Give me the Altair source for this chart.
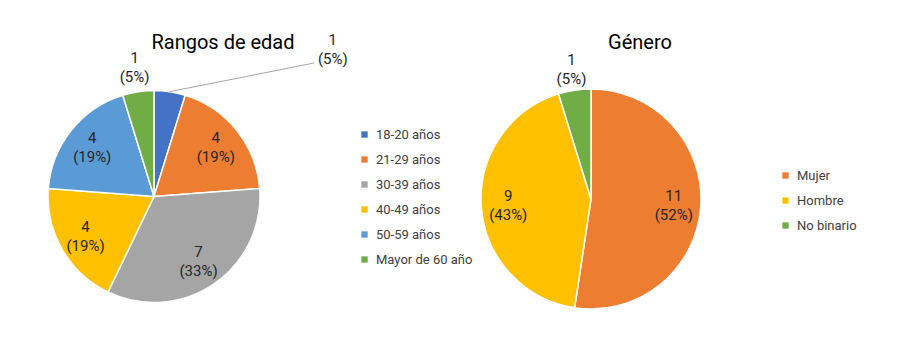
import math
import altair as alt
import pandas as pd

# ---- data ----
age_cats = ["18-20 años", "21-29 años", "30-39 años", "40-49 años", "50-59 años", "Mayor de 60 año"]
age_vals = [1, 4, 7, 4, 4, 1]
age_colors = ["#4472C4", "#ED7D31", "#A5A5A5", "#FFC000", "#5B9BD5", "#70AD47"]

gen_cats = ["Mujer", "Hombre", "No binario"]
gen_vals = [11, 9, 1]
gen_colors = ["#ED7D31", "#FFC000", "#70AD47"]

FONT = "Roboto"
TXT = "#262626"
LEG = "#404040"

age_df = pd.DataFrame({"cat": age_cats, "value": age_vals, "idx": list(range(len(age_cats)))})
gen_df = pd.DataFrame({"cat": gen_cats, "value": gen_vals, "idx": list(range(len(gen_cats)))})

# geometry (chart pixel coords)
L_CX, L_CY, L_R = 146, 188.5, 106
R_CX, R_CY, R_R = 583, 191, 110
LINE_SHIFT = -9.5  # centre two-line labels on their anchor


def pie(df, cats, colors, cx, cy, r, lx, ly):
    return alt.Chart(df).mark_arc(radius=r, stroke="white", strokeWidth=1.5).encode(
        theta=alt.Theta("value:Q", stack=True),
        order=alt.Order("idx:Q", sort="ascending"),
        color=alt.Color(
            "cat:N",
            sort=cats,
            scale=alt.Scale(domain=cats, range=colors),
            legend=alt.Legend(
                title=None, orient="none", legendX=lx, legendY=ly,
                symbolType="square", symbolSize=40, symbolStrokeWidth=0,
                labelFont=FONT, labelFontSize=13, labelColor=LEG,
                rowPadding=11, labelOffset=5, labelLimit=200,
            ),
        ),
        x=alt.value(cx),
        y=alt.value(cy),
    )


def labels(df, cx, cy, radius, cond, dx=0, dy=0):
    return alt.Chart(df).transform_joinaggregate(
        total="sum(value)"
    ).transform_calculate(
        lab=f"({cond}) ? (datum.value + '\\n(' + round(datum.value / datum.total * 100) + '%)') : ''"
    ).mark_text(
        radius=radius, font=FONT, fontSize=15, color=TXT, lineBreak="\n",
        lineHeight=19, align="center", baseline="middle", dx=dx, dy=dy + LINE_SHIFT,
    ).encode(
        theta=alt.Theta("value:Q", stack=True),
        order=alt.Order("idx:Q", sort="ascending"),
        text="lab:N",
        x=alt.value(cx),
        y=alt.value(cy),
    )


def title(text, x, y):
    return alt.Chart(pd.DataFrame({"t": [text]})).mark_text(
        font=FONT, fontSize=20, color="#000000", align="center", baseline="alphabetic"
    ).encode(text="t:N", x=alt.value(x), y=alt.value(y))


# leader line for the smallest age slice
mid = 0.5 * age_vals[0] / sum(age_vals) * 2 * math.pi
sx = L_CX + L_R * math.sin(mid)
sy = L_CY - L_R * math.cos(mid)
leader = alt.Chart(pd.DataFrame({"a": [0]})).mark_rule(color="#A6A6A6", strokeWidth=1).encode(
    x=alt.value(sx), y=alt.value(sy), x2=alt.value(306), y2=alt.value(55)
)

left_pie = pie(age_df, age_cats, age_colors, L_CX, L_CY, L_R, 350, 120)
left_in = labels(age_df, L_CX, L_CY, 79, "datum.value >= 2")
left_out = labels(age_df, L_CX, L_CY, 130, "datum.idx == 5")
left_far = labels(age_df, L_CX, L_CY, L_R, "datum.idx == 0", dx=163, dy=-42)

right_pie = pie(gen_df, gen_cats, gen_colors, R_CX, R_CY, R_R, 771, 161)
right_in = labels(gen_df, R_CX, R_CY, 83, "datum.value >= 2")
right_out = labels(gen_df, R_CX, R_CY, 131, "datum.value < 2")

chart = alt.layer(
    left_pie, leader, left_in, left_out, left_far,
    right_pie, right_in, right_out,
    title("Rangos de edad", 215, 41),
    title("Género", 632, 41),
).resolve_scale(
    color="independent", theta="independent"
).resolve_legend(
    color="independent"
).properties(
    width=881, height=342, autosize=alt.AutoSizeParams(type="none"), padding=0,
).configure_view(stroke=None)

chart.save("out.html", embed_options={"renderer": "svg", "actions": False})
